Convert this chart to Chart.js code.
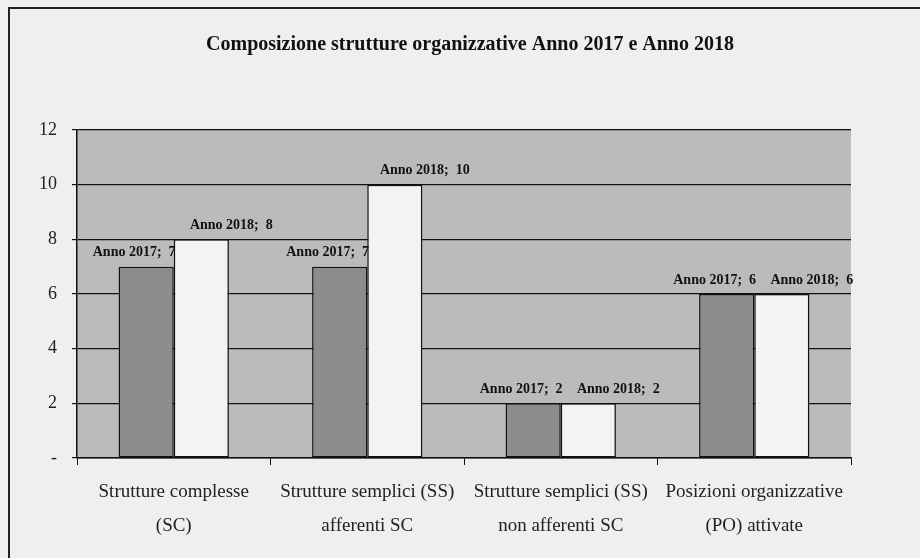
<!DOCTYPE html>
<html>
<head>
<meta charset="utf-8">
<script src="https://cdn.jsdelivr.net/npm/chart.js@4/dist/chart.umd.min.js"></script>
<style>
    body { margin: 0; background: #efefef; }
    #wrap { position: relative; width: 920px; height: 558px; overflow: hidden; }
    #frame { position: absolute; left: 8px; top: 7px; width: 950px; height: 600px; border-left: 2px solid #222; border-top: 2px solid #222; pointer-events: none; }
    canvas { position: absolute; left: 0; top: 0; }
</style>
</head>
<body>
<div id="wrap">
    <canvas id="chart" width="920" height="558"></canvas>
    <div id="frame"></div>
</div>
<script>
// chart data
const chartTitle = 'Composizione strutture organizzative Anno 2017 e Anno 2018';
const categories = [
    ['Strutture complesse', '(SC)'],
    ['Strutture semplici (SS)', 'afferenti SC'],
    ['Strutture semplici (SS)', 'non afferenti SC'],
    ['Posizioni organizzative', '(PO) attivate']
];
const seriesNames = ['Anno 2017', 'Anno 2018'];
const values2017 = [7, 7, 2, 6];
const values2018 = [8, 10, 2, 6];
const yTickValues = [0, 2, 4, 6, 8, 10, 12];

const serif = '"Liberation Serif", "DejaVu Serif", serif';

// grey background behind the plot area
const plotBackground = {
    id: 'plotBackground',
    beforeDraw(chart) {
        const { ctx, chartArea: a } = chart;
        ctx.save();
        ctx.fillStyle = '#bbbbbb';
        ctx.fillRect(a.left, a.top, a.right - a.left, a.bottom - a.top);
        ctx.restore();
    }
};

// title, drawn by hand so it can sit off the chart-area centre like the original
const titleText = {
    id: 'titleText',
    afterDraw(chart) {
        const ctx = chart.ctx;
        ctx.save();
        ctx.font = 'bold 20px ' + serif;
        ctx.fillStyle = '#111';
        ctx.textAlign = 'center';
        ctx.textBaseline = 'middle';
        ctx.fillText(chartTitle, 470, 45);
        ctx.restore();
    }
};

// "Anno 2017; 7" style labels above each bar
const barLabels = {
    id: 'barLabels',
    afterDatasetsDraw(chart) {
        const ctx = chart.ctx;
        const shift = [-12, 30];
        ctx.save();
        ctx.font = 'bold 14px ' + serif;
        ctx.fillStyle = '#111';
        ctx.textAlign = 'center';
        ctx.textBaseline = 'middle';
        chart.data.datasets.forEach((ds, i) => {
            chart.getDatasetMeta(i).data.forEach((bar, j) => {
                ctx.fillText(ds.label + ';  ' + ds.data[j], bar.x + shift[i], bar.y - 14);
            });
        });
        ctx.restore();
    }
};

new Chart(document.getElementById('chart'), {
    type: 'bar',
    data: {
        labels: categories,
        datasets: [
            {
                label: seriesNames[0],
                data: values2017,
                backgroundColor: '#8c8c8c',
                borderColor: '#111',
                borderWidth: 1.5,
                borderSkipped: false
            },
            {
                label: seriesNames[1],
                data: values2018,
                backgroundColor: '#f3f3f3',
                borderColor: '#111',
                borderWidth: 1.5,
                borderSkipped: false
            }
        ]
    },
    options: {
        responsive: false,
        animation: false,
        categoryPercentage: 0.57,
        barPercentage: 1.0,
        layout: { padding: { left: 0, right: 69, top: 130, bottom: 0 } },
        plugins: {
            legend: { display: false },
            tooltip: { enabled: false },
            title: { display: false }
        },
        scales: {
            x: {
                grid: { offset: true, drawOnChartArea: false, color: '#111', tickLength: 7 },
                border: { color: '#111', width: 1.5 },
                ticks: { color: '#222', font: { family: serif, size: 19, lineHeight: 1.8 }, padding: 10, maxRotation: 0 },
                afterFit: s => { s.height = 100; }
            },
            y: {
                min: 0,
                max: 12,
                afterBuildTicks: s => { s.ticks = yTickValues.map(v => ({ value: v })); },
                grid: { color: '#111', lineWidth: 1.2, tickLength: 5 },
                border: { color: '#111', width: 1.5 },
                ticks: {
                    color: '#222',
                    font: { family: serif, size: 18 },
                    padding: 15,
                    callback: v => v === 0 ? '-' : v
                },
                afterFit: s => { s.width = 77; }
            }
        }
    },
    plugins: [plotBackground, barLabels, titleText]
});
</script>
</body>
</html>
